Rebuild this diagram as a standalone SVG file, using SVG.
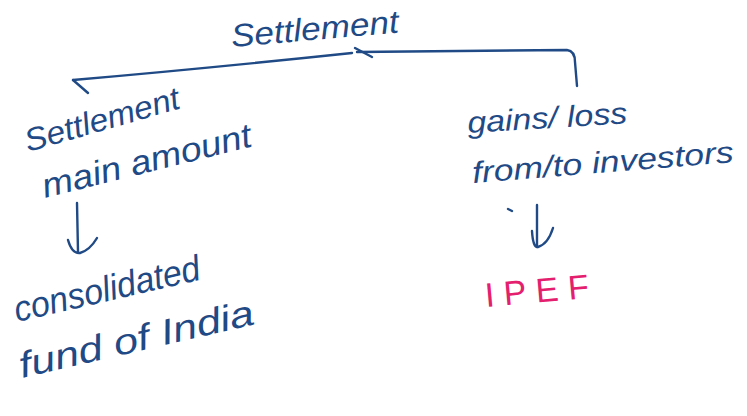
<svg xmlns="http://www.w3.org/2000/svg" width="747" height="416" viewBox="0 0 747 416">
<style>
.ink{fill:#1f4a85;font-family:"Liberation Sans","DejaVu Sans",sans-serif;font-style:italic;}
.pink{fill:#e4206e;font-family:"Liberation Sans","DejaVu Sans",sans-serif;}
.ln{fill:none;stroke:#1f4a85;stroke-width:2.4;stroke-linecap:round;stroke-linejoin:round;}
</style>
<rect width="747" height="416" fill="#ffffff"/>
<g id="connectors">
<path class="ln" d="M73,80 L88,93"/>
<path class="ln" d="M73,80 Q200,69 352,53"/>
<path class="ln" d="M355,48 L372,57"/>
<path class="ln" d="M357,52 L567,50 Q575,51 575,62 L577,86"/>
<path class="ln" d="M77,203 L78,252"/>
<path class="ln" d="M68,240 Q72,254 80,253 Q90,250 97,238"/>
<path class="ln" d="M537,205 L537,247"/>
<path class="ln" d="M532,231 Q533,248 538,247 Q548,244 553,228"/>
<path class="ln" d="M508,209 L512,211"/>
</g>
<g id="node-settlement">
<text class="ink" font-size="32" transform="translate(232,47) rotate(-5)" textLength="168" lengthAdjust="spacingAndGlyphs">Settlement</text>
</g>
<g id="node-settlement-main">
<text class="ink" font-size="32" transform="translate(28,152) rotate(-16)" textLength="160" lengthAdjust="spacingAndGlyphs">Settlement</text>
<text class="ink" font-size="34" transform="translate(45,198) rotate(-14)" textLength="215" lengthAdjust="spacingAndGlyphs">main amount</text>
</g>
<g id="node-cfi">
<text class="ink" font-size="36" transform="translate(17,322) rotate(-13)" textLength="190" lengthAdjust="spacingAndGlyphs">consolidated</text>
<text class="ink" font-size="36" transform="translate(22,378) rotate(-13)" textLength="240" lengthAdjust="spacingAndGlyphs">fund of India</text>
</g>
<g id="node-gains">
<text class="ink" font-size="30" transform="translate(468,133) rotate(-3.5)" textLength="160" lengthAdjust="spacingAndGlyphs">gains/ loss</text>
<text class="ink" font-size="30" transform="translate(473,183) rotate(-4.6)" textLength="262" lengthAdjust="spacingAndGlyphs">from/to investors</text>
</g>
<g id="node-ipef">
<text class="pink" font-size="34" transform="translate(486,307) rotate(-5)" textLength="104" lengthAdjust="spacing">IPEF</text>
</g>
</svg>
